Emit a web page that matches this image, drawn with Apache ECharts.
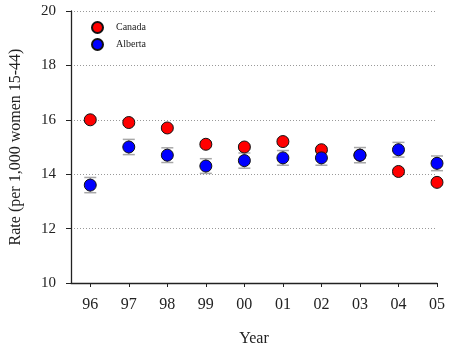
<!DOCTYPE html>
<html><head><meta charset="utf-8">
<script src="https://cdn.jsdelivr.net/npm/echarts@6/dist/echarts.min.js"></script>
<style>html,body{margin:0;padding:0;background:#fff}#c{width:454px;height:348px}</style>
</head><body><div id="c"></div>
<script>
const years = ['96','97','98','99','00','01','02','03','04','05'];
const canada = [16.0, 15.9, 15.7, 15.1, 15.0, 15.2, 14.9, 14.7, 14.1, 13.7];
const canadaErr = [0.08, 0.08, 0.08, 0.08, 0.08, 0.08, 0.08, 0.08, 0.08, 0.08];
const alberta = [13.6, 15.0, 14.7, 14.3, 14.5, 14.6, 14.6, 14.7, 14.9, 14.4];
const albertaErr = [0.28, 0.28, 0.27, 0.27, 0.28, 0.27, 0.27, 0.28, 0.27, 0.27];
const yTicks = [10, 12, 14, 16, 18, 20];

const FONT = '"Liberation Serif", "DejaVu Serif", serif';
const idx = years.map((_, i) => i);
const ERR_COLOR = '#a8a8a8';

function errData(vals, errs) {
  return vals.map((v, i) => [i, v - errs[i], v + errs[i]]);
}
function errSeries(vals, errs) {
  return {
    type: 'custom',
    silent: true,
    z: 1,
    itemStyle: { color: ERR_COLOR, borderColor: ERR_COLOR },
    data: errData(vals, errs),
    renderItem: function (params, api) {
      const x = api.value(0);
      const lo = api.coord([x, api.value(1)]);
      const hi = api.coord([x, api.value(2)]);
      const hw = 6;
      const st = { stroke: ERR_COLOR, fill: null, lineWidth: 1.5 };
      return { type: 'group', children: [
        { type: 'line', shape: { x1: lo[0], y1: lo[1], x2: hi[0], y2: hi[1] }, style: st },
        { type: 'line', shape: { x1: lo[0] - hw, y1: lo[1], x2: lo[0] + hw, y2: lo[1] }, style: st },
        { type: 'line', shape: { x1: hi[0] - hw, y1: hi[1], x2: hi[0] + hw, y2: hi[1] }, style: st }
      ]};
    }
  };
}

const chart = echarts.init(document.getElementById('c'), null, { renderer: 'canvas' });
chart.setOption({
  animation: false,
  textStyle: { fontFamily: FONT },
  grid: { left: 71, right: 17, top: 11, bottom: 65, containLabel: false, outerBoundsMode: 'none' },
  legend: {
    orient: 'vertical', left: 86, top: 16, itemWidth: 11, itemHeight: 11, itemGap: 4,
    icon: 'circle',
    textStyle: { fontFamily: FONT, fontSize: 10, color: '#222', padding: [0, 0, 0, 8] },
    data: ['Canada', 'Alberta']
  },
  xAxis: {
    type: 'value', min: -0.5, max: 9,
    name: 'Year', nameLocation: 'middle', nameGap: 48,
    nameTextStyle: { fontFamily: FONT, fontSize: 16, color: '#222' },
    axisLine: { show: true, onZero: false, lineStyle: { color: '#222', width: 1.3 } },
    axisTick: { show: true, customValues: idx, length: 4, lineStyle: { color: '#222' } },
    axisLabel: { customValues: idx, formatter: v => years[v], margin: 14,
      fontFamily: FONT, fontSize: 16, color: '#222' },
    splitLine: { show: false }
  },
  yAxis: {
    type: 'value', min: 10, max: 20, interval: 2,
    name: 'Rate (per 1,000 women 15-44)', nameLocation: 'middle', nameGap: 47,
    nameTextStyle: { fontFamily: FONT, fontSize: 16, color: '#222' },
    axisLine: { show: true, onZero: false, lineStyle: { color: '#222', width: 1.3 } },
    axisTick: { show: true, length: 5, lineStyle: { color: '#222' } },
    axisLabel: { margin: 15, fontFamily: FONT, fontSize: 15, color: '#222',
      formatter: v => yTicks.includes(v) ? String(v) : '' },
    splitLine: { show: true, lineStyle: { color: '#999', type: [1, 2], width: 1 } }
  },
  series: [
    errSeries(canada, canadaErr),
    errSeries(alberta, albertaErr),
    {
      name: 'Canada', type: 'scatter', z: 3, symbol: 'circle', symbolSize: 12,
      itemStyle: { color: '#ff0000', borderColor: '#111', borderWidth: 1, opacity: 1 },
      data: canada.map((v, i) => [i, v])
    },
    {
      name: 'Alberta', type: 'scatter', z: 4, symbol: 'circle', symbolSize: 12,
      itemStyle: { color: '#0000ff', borderColor: '#111', borderWidth: 1, opacity: 1 },
      data: alberta.map((v, i) => [i, v])
    }
  ]
});
</script>
</body></html>
